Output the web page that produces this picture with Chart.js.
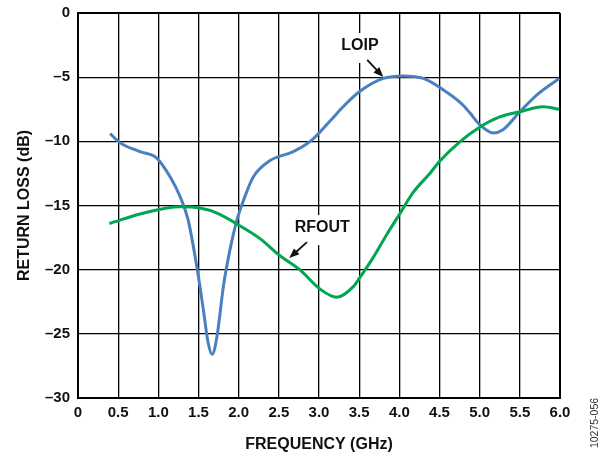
<!DOCTYPE html>
<html>
<head>
<meta charset="utf-8">
<script src="https://cdn.jsdelivr.net/npm/chart.js@4.4.1/dist/chart.umd.min.js"></script>
<style>
  html, body { margin: 0; padding: 0; background: #fff; }
  #wrap { width: 605px; height: 454px; position: relative; }
</style>
</head>
<body>
<div id="wrap"><canvas id="returnLoss"></canvas></div>
<script>
// tick values
const freqTicks = [0, 0.5, 1.0, 1.5, 2.0, 2.5, 3.0, 3.5, 4.0, 4.5, 5.0, 5.5, 6.0];
const lossTicks = [-30, -25, -20, -15, -10, -5, 0];

// LOIP return loss
const loipFreq = [0.40, 0.52, 0.77, 0.98, 1.15, 1.27, 1.37, 1.48, 1.56, 1.62, 1.67, 1.73, 1.81, 1.89, 1.98, 2.06, 2.18, 2.39, 2.68, 2.91, 3.14, 3.30, 3.51, 3.80, 4.05, 4.30, 4.55, 4.78, 4.88, 5.00, 5.17, 5.29, 5.50, 5.71, 5.99];
const loipDb = [-9.4, -10.1, -10.8, -11.3, -12.8, -14.3, -16.1, -19.8, -23.1, -25.7, -26.6, -25.2, -21.3, -18.5, -16.1, -14.6, -12.8, -11.5, -10.8, -9.9, -8.4, -7.3, -6.1, -5.1, -4.9, -5.1, -6.0, -7.1, -7.8, -8.7, -9.35, -9.1, -7.7, -6.4, -5.1];

// RFOUT return loss
const rfoutFreq = [0.39, 0.81, 1.27, 1.52, 1.73, 2.02, 2.27, 2.51, 2.76, 3.01, 3.22, 3.43, 3.51, 3.68, 3.84, 4.01, 4.17, 4.38, 4.51, 4.76, 5.00, 5.25, 5.50, 5.79, 5.99];
const rfoutDb = [-16.4, -15.6, -15.1, -15.2, -15.6, -16.6, -17.6, -18.9, -20.0, -21.5, -22.15, -21.3, -20.6, -19.0, -17.3, -15.6, -14.0, -12.5, -11.5, -10.0, -8.9, -8.1, -7.7, -7.3, -7.5];

// callout labels: text position and arrow (from -> tip), in GHz / dB
const callouts = [
  { text: "LOIP", x: 3.51, y: -2.57, from: [3.60, -3.66], tip: [3.80, -4.99] },
  { text: "RFOUT", x: 3.04, y: -16.76, from: [2.85, -17.85], tip: [2.63, -19.10] },
];

const BLUE = "#4a7fc0";
const GREEN = "#00a651";
const FONT = "'Liberation Sans', Arial, Helvetica, sans-serif";

function toPoints(xs, ys) {
  return xs.map((x, i) => ({ x, y: ys[i] }));
}

function fmtTick(value) {
  if (value === 0) return "0";
  if (value < 0) return "\u2013" + Math.abs(value);
  return value.toFixed(1);
}

const calloutPlugin = {
  id: "callouts",
  beforeDatasetsDraw(chart) {
    const { ctx, scales } = chart;
    ctx.save();
    ctx.font = `bold 16px ${FONT}`;
    ctx.fillStyle = "#fff";
    callouts.forEach((c) => {
      const px = scales.x.getPixelForValue(c.x);
      const py = scales.y.getPixelForValue(c.y);
      const w = ctx.measureText(c.text).width + 6;
      ctx.fillRect(px - w / 2, py - 13, w, 30);
    });
    ctx.restore();
  },
  afterDatasetsDraw(chart) {
    const { ctx, scales } = chart;
    ctx.save();
    ctx.font = `bold 16px ${FONT}`;
    ctx.fillStyle = "#111";
    ctx.strokeStyle = "#111";
    ctx.textAlign = "center";
    ctx.textBaseline = "middle";
    callouts.forEach((c) => {
      ctx.fillText(c.text, scales.x.getPixelForValue(c.x), scales.y.getPixelForValue(c.y));
      const x1 = scales.x.getPixelForValue(c.from[0]);
      const y1 = scales.y.getPixelForValue(c.from[1]);
      const x2 = scales.x.getPixelForValue(c.tip[0]);
      const y2 = scales.y.getPixelForValue(c.tip[1]);
      const ang = Math.atan2(y2 - y1, x2 - x1);
      const head = 10;
      ctx.lineWidth = 1.8;
      ctx.beginPath();
      ctx.moveTo(x1, y1);
      ctx.lineTo(x2 - Math.cos(ang) * head * 0.8, y2 - Math.sin(ang) * head * 0.8);
      ctx.stroke();
      ctx.beginPath();
      ctx.moveTo(x2, y2);
      ctx.lineTo(x2 - head * Math.cos(ang) + 4 * Math.sin(ang), y2 - head * Math.sin(ang) - 4 * Math.cos(ang));
      ctx.lineTo(x2 - head * Math.cos(ang) - 4 * Math.sin(ang), y2 - head * Math.sin(ang) + 4 * Math.cos(ang));
      ctx.closePath();
      ctx.fill();
    });
    ctx.restore();
  },
  afterDraw(chart) {
    const { ctx } = chart;
    ctx.save();
    ctx.translate(595, 423);
    ctx.rotate(-Math.PI / 2);
    ctx.font = `10.5px ${FONT}`;
    ctx.fillStyle = "#333";
    ctx.textAlign = "center";
    ctx.textBaseline = "middle";
    ctx.fillText("10275-056", 0, 0);
    ctx.restore();
  },
};

function edgeWidth(ctx) {
  const v = ctx.tick && ctx.tick.value;
  return v === 0 || v === 6 || v === -30 ? 2 : 1.3;
}

new Chart(document.querySelector("#returnLoss"), {
  type: "line",
  data: {
    datasets: [
      {
        label: "RFOUT",
        data: toPoints(rfoutFreq, rfoutDb),
        borderColor: GREEN,
        borderWidth: 3,
        pointRadius: 0,
        cubicInterpolationMode: "monotone",
        fill: false,
      },
      {
        label: "LOIP",
        data: toPoints(loipFreq, loipDb),
        borderColor: BLUE,
        borderWidth: 3,
        pointRadius: 0,
        cubicInterpolationMode: "monotone",
        fill: false,
      },
    ],
  },
  options: {
    responsive: true,
    maintainAspectRatio: false,
    animation: false,
    layout: { padding: { top: 13, right: 45, left: 0, bottom: 0 } },
    plugins: {
      legend: { display: false },
      tooltip: { enabled: false },
    },
    scales: {
      x: {
        type: "linear",
        min: 0,
        max: 6,
        afterBuildTicks: (scale) => { scale.ticks = freqTicks.map((value) => ({ value })); },
        afterFit: (scale) => {
          scale.height = 56;
          scale.paddingLeft = 0;
          scale.paddingRight = 0;
        },
        grid: { color: "#000", lineWidth: edgeWidth, drawTicks: false },
        border: { display: true, color: "#000", width: 2 },
        ticks: {
          color: "#111",
          padding: 6,
          maxRotation: 0,
          autoSkip: false,
          font: { family: FONT, size: 15, weight: "bold" },
          callback: fmtTick,
        },
        title: {
          display: true,
          text: "FREQUENCY (GHz)",
          color: "#111",
          padding: { top: 4, bottom: 0 },
          font: { family: FONT, size: 16, weight: "bold" },
        },
      },
      y: {
        type: "linear",
        min: -30,
        max: 0,
        afterBuildTicks: (scale) => { scale.ticks = lossTicks.map((value) => ({ value })); },
        afterFit: (scale) => {
          scale.width = 78;
          scale.paddingTop = 0;
          scale.paddingBottom = 0;
        },
        grid: { color: "#000", lineWidth: edgeWidth, drawTicks: false },
        border: { display: true, color: "#000", width: 2 },
        ticks: {
          color: "#111",
          padding: 8,
          autoSkip: false,
          font: { family: FONT, size: 15, weight: "bold" },
          callback: fmtTick,
        },
        title: {
          display: true,
          text: "RETURN LOSS (dB)",
          color: "#111",
          padding: { top: 15, bottom: 0 },
          font: { family: FONT, size: 16, weight: "bold" },
        },
      },
    },
  },
  plugins: [calloutPlugin],
});
</script>
</body>
</html>
